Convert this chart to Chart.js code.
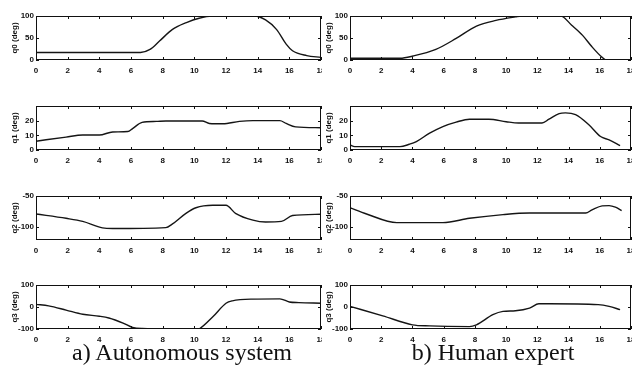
<!DOCTYPE html>
<html>
<head>
<meta charset="utf-8">
<script src="https://cdn.jsdelivr.net/npm/chart.js@4.4.1/dist/chart.umd.min.js"></script>
<style>
  body { margin: 0; background: #fff; }
  #wrap { position: relative; width: 632px; height: 372px; overflow: hidden; background: #fff; }
  canvas { position: absolute; background: #fff; }
  .cap { position: absolute; font-family: "Liberation Serif", "Times New Roman", serif; font-size: 24px; color: #111; white-space: nowrap; transform: translateX(-50%); }
</style>
</head>
<body>
<div id="wrap">
  <canvas id="a0"></canvas><canvas id="a1"></canvas><canvas id="a2"></canvas><canvas id="a3"></canvas>
  <canvas id="b0"></canvas><canvas id="b1"></canvas><canvas id="b2"></canvas><canvas id="b3"></canvas>
  <div class="cap" style="left:182px; top:339px;">a) Autonomous system</div>
  <div class="cap" style="left:493px; top:339px;">b) Human expert</div>
</div>
<script>
// shared axes
const xTicks = [0, 2, 4, 6, 8, 10, 12, 14, 16, 18];
const q0Ticks = [0, 50, 100];
const q1Ticks = [0, 10, 20];
const q2Ticks = [-100, -50];
const q3Ticks = [-100, 0, 100];

// a) autonomous system
const autoQ0t = [0, 6.6, 7.2, 7.8, 8.6, 9.5, 10.3, 11.1, 13.8, 14.5, 15.2, 15.8, 16.2, 17.1, 18];
const autoQ0 = [17, 17, 24, 43, 69, 85, 95, 100, 100, 91, 69, 36, 21, 10, 6];
const autoQ1t = [0, 1.9, 2.95, 4, 4.84, 5.8, 6.1, 6.7, 7.6, 8.2, 10.5, 10.95, 11.8, 12.85, 13.7, 15.4, 15.8, 16.4, 18];
const autoQ1 = [6, 8.8, 10.2, 10.2, 12.3, 12.6, 14.6, 18.8, 19.5, 19.8, 19.8, 18.1, 17.9, 19.5, 20, 20, 18.1, 15.8, 15.2];
const autoQ2t = [0, 1.9, 2.95, 4.2, 4.84, 8.2, 8.6, 9.47, 10.1, 11.16, 12, 12.6, 13.7, 14.5, 15.5, 16.2, 18];
const autoQ2 = [-79, -86, -91, -101.5, -102.5, -101, -95.5, -78, -69, -65, -65, -78, -89, -92, -91, -81.5, -79.5];
const autoQ3t = [0, 0.8, 1.9, 2.95, 4, 4.6, 5.5, 6.1, 6.7, 7.4, 8.5, 9.5, 10.3, 11.2, 12, 12.4, 13.7, 15.4, 16, 16.6, 18];
const autoQ3 = [12, 5, -14, -33, -42, -50, -73, -93, -98, -99, -110, -114, -100, -42, 17, 28, 36, 37, 23, 20, 17];

// b) human expert
const humQ0t = [0, 3.2, 4.04, 5.5, 6.8, 8.1, 9.35, 10.6, 11, 13.5, 14.2, 14.9, 15.5, 16.15, 16.4, 17.4];
const humQ0 = [4, 4, 9, 24, 49, 77, 90, 98, 100, 100, 79, 56, 30, 6, 0, 0];
const humQ1t = [0, 0.3, 3.2, 3.8, 4.25, 5.1, 5.95, 6.8, 7.65, 8.9, 10, 10.8, 12.3, 12.75, 13.4, 13.8, 14.45, 15.3, 16.05, 16.6, 17.3];
const humQ1 = [3.4, 2.3, 2.3, 3.9, 5.7, 11.5, 16, 19, 21, 21, 19.3, 18.4, 18.4, 21, 24.8, 25.3, 24.1, 17.2, 9.2, 6.9, 3];
const humQ2t = [0, 1.06, 3, 5.95, 7.65, 9.8, 11.5, 15.1, 15.5, 16.15, 16.6, 17, 17.4];
const humQ2 = [-69, -79, -93, -93, -86, -80, -77.5, -77.5, -72.5, -66, -65.5, -68, -73.5];
const humQ3t = [0, 2.1, 4, 5.1, 7.65, 8.1, 9.15, 9.8, 10.6, 11.5, 12.1, 12.75, 15.9, 16.6, 17.3];
const humQ3 = [3, -40, -81, -86, -89, -81, -35, -20, -17, -5, 15, 15, 11, 3, -12];

const areaTops = [16, 106, 196, 285];
const areaH = 44;
const smallFont = { family: "'Liberation Sans Narrow', 'Liberation Sans', sans-serif", size: 8, weight: 'bold' };

// box around the plot with small inward ticks, matlab style
const framePlugin = {
    id: 'frame',
    afterDatasetsDraw(chart) {
        const a = chart.chartArea;
        const ctx = chart.ctx;
        const xs = chart.scales.x, ys = chart.scales.y;
        ctx.save();
        ctx.strokeStyle = '#111';
        ctx.lineWidth = 1;
        ctx.strokeRect(Math.round(a.left) + 0.5, Math.round(a.top) + 0.5, Math.round(a.right - a.left) - 1, Math.round(a.bottom - a.top) - 1);
        ctx.beginPath();
        xs.ticks.forEach(t => {
            const px = Math.round(xs.getPixelForValue(t.value)) + 0.5;
            ctx.moveTo(px, a.bottom); ctx.lineTo(px, a.bottom - 3);
            ctx.moveTo(px, a.top); ctx.lineTo(px, a.top + 3);
        });
        ys.ticks.forEach(t => {
            const py = Math.round(ys.getPixelForValue(t.value)) + 0.5;
            ctx.moveTo(a.left, py); ctx.lineTo(a.left + 3, py);
            ctx.moveTo(a.right, py); ctx.lineTo(a.right - 3, py);
        });
        ctx.stroke();
        ctx.restore();
    }
};

function makePanel(id, row, side, t, q, yMin, yMax, yTicks, yTitle) {
    const cv = document.getElementById(id);
    const left = side === 'a' ? 0 : 322;
    const width = side === 'a' ? 323 : 310;
    const padR = side === 'a' ? 2 : 1;
    const yWidth = side === 'a' ? 36 : 28;
    const titlePad = side === 'a' ? 10 : 2;
    cv.style.left = left + 'px';
    cv.style.top = (areaTops[row] - 6) + 'px';
    cv.width = width;
    cv.height = 6 + areaH + 18;
    cv.style.width = width + 'px';
    cv.style.height = cv.height + 'px';

    const pts = t.map((x, i) => ({ x: x, y: q[i] }));
    new Chart(cv.getContext('2d'), {
        type: 'line',
        data: {
            datasets: [{
                data: pts,
                borderColor: '#151515',
                borderWidth: 1.4,
                pointRadius: 0,
                fill: false,
                cubicInterpolationMode: 'monotone'
            }]
        },
        options: {
            responsive: false,
            animation: false,
            layout: { padding: { top: 6, right: padR, left: 0, bottom: 0 } },
            plugins: { legend: { display: false }, tooltip: { enabled: false } },
            scales: {
                x: {
                    type: 'linear',
                    min: 0,
                    max: 18,
                    grid: { display: false, drawTicks: false },
                    border: { display: false },
                    afterBuildTicks: s => { s.ticks = xTicks.map(v => ({ value: v })); },
                    afterFit: s => { s.height = 18; s.paddingLeft = 0; s.paddingRight = 0; },
                    ticks: { autoSkip: false, maxRotation: 0, padding: 6, color: '#111', font: smallFont }
                },
                y: {
                    min: yMin,
                    max: yMax,
                    grid: { display: false, drawTicks: false },
                    border: { display: false },
                    afterBuildTicks: s => { s.ticks = yTicks.map(v => ({ value: v })); },
                    afterFit: s => { s.width = yWidth; s.paddingTop = 0; s.paddingBottom = 0; },
                    ticks: { padding: 2, color: '#111', font: smallFont },
                    title: {
                        display: true, text: yTitle, color: '#111',
                        padding: { top: titlePad, bottom: 0 },
                        font: { family: smallFont.family, size: 8, weight: 'bold' }
                    }
                }
            }
        },
        plugins: [framePlugin]
    });
}

makePanel('a0', 0, 'a', autoQ0t, autoQ0, 0, 100, q0Ticks, 'q0 (deg)');
makePanel('a1', 1, 'a', autoQ1t, autoQ1, 0, 30, q1Ticks, 'q1 (deg)');
makePanel('a2', 2, 'a', autoQ2t, autoQ2, -121, -50, q2Ticks, 'q2 (deg)');
makePanel('a3', 3, 'a', autoQ3t, autoQ3, -100, 100, q3Ticks, 'q3 (deg)');
makePanel('b0', 0, 'b', humQ0t, humQ0, 0, 100, q0Ticks, 'q0 (deg)');
makePanel('b1', 1, 'b', humQ1t, humQ1, 0, 30, q1Ticks, 'q1 (deg)');
makePanel('b2', 2, 'b', humQ2t, humQ2, -121, -50, q2Ticks, 'q2 (deg)');
makePanel('b3', 3, 'b', humQ3t, humQ3, -100, 100, q3Ticks, 'q3 (deg)');
</script>
</body>
</html>
